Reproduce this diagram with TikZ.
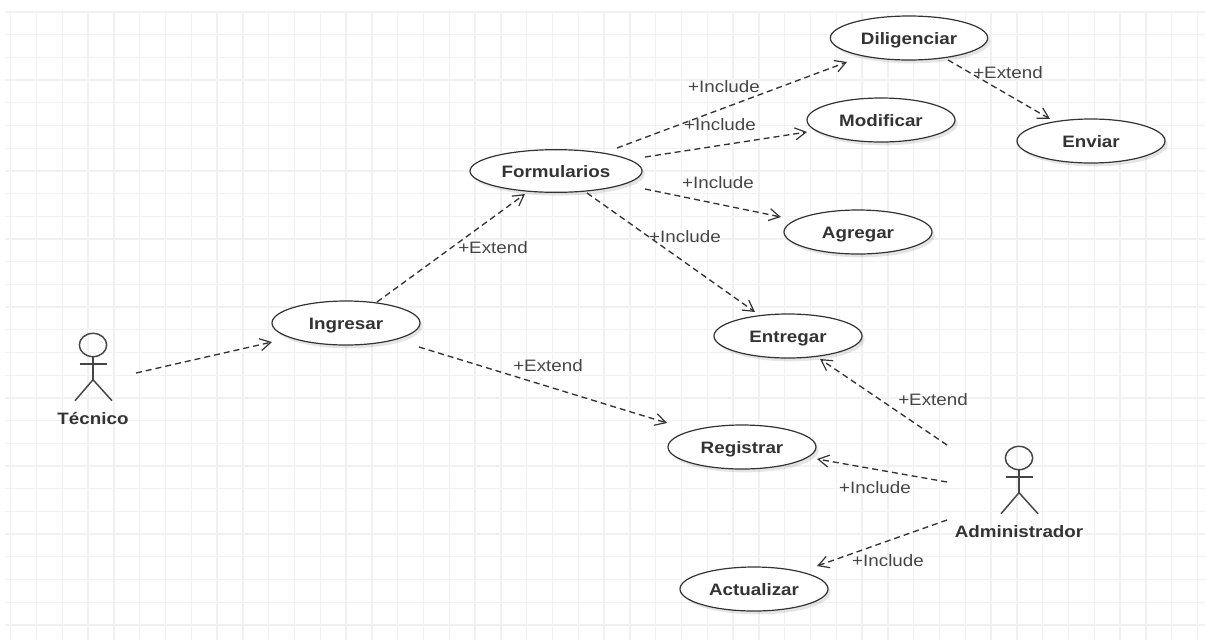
\documentclass[tikz,border=0pt]{standalone}
\usepackage{fontspec}
\setmainfont[FakeStretch=1.137]{Liberation Sans}
\usetikzlibrary{arrows.meta}
\usetikzlibrary{shapes.geometric}
\usetikzlibrary{shadows}
\definecolor{gridline}{rgb}{0.945, 0.945, 0.945}
\definecolor{umlline}{rgb}{0.2, 0.2, 0.2}
\definecolor{umltext}{rgb}{0.27, 0.27, 0.27}
\tikzset{usecase/.style = {draw = umlline, line width = 0.9pt, fill = white, ellipse, inner sep = 0,
                           minimum width = 111pt, minimum height = 33pt, font = \fontsize{12.4}{14}\selectfont\bfseries,
                           text = umlline, text height = 9pt, text depth = 0pt,
                           drop shadow = {shadow xshift = 2pt, shadow yshift = -2.5pt,
                                          fill = black, opacity = 0.1}}}
\tikzset{dep/.style = {draw = umlline, line width = 1pt, dash pattern = on 4.5pt off 3pt,
                       -{Straight Barb[length = 8pt, width = 9pt, line width = 0.9pt]}}}
\tikzset{stereo/.style = {text = umltext, inner sep = 0, text height = 9pt, text depth = 0pt,
                          font = \fontsize{12.4}{14}\selectfont}}
\tikzset{actorname/.style = {text = umlline, inner sep = 0, text height = 9pt, text depth = 0pt,
                             font = \fontsize{12.4}{14}\selectfont\bfseries}}
\tikzset{actorhead/.style = {draw = umltext, line width = 1.1pt, ellipse, inner sep = 0,
                             minimum width = 20.5pt, minimum height = 17.5pt}}
\tikzset{actorline/.style = {draw = umltext, line width = 1.1pt}}

\begin{document}
\begin{tikzpicture}[x = 0.75pt, y = -0.75pt]
      \useasboundingbox [fill = white] (0, 0) rectangle (1205, 640);

      \foreach \gx in {0, ..., 46}
        \draw [gridline, line width = 1pt] (10.7 + 25.8 * \gx, 12) -- (10.7 + 25.8 * \gx, 640);
      \foreach \gy in {0, ..., 27}
        \draw [gridline, line width = 1pt] (5, 12 + 22.7 * \gy) -- (1205, 12 + 22.7 * \gy);

      \node [usecase, minimum width = 118pt] (diligenciar) at (909, 38) {Diligenciar};
      \node [usecase] (modificar) at (881, 120) {Modificar};
      \node [usecase] (enviar) at (1091, 141) {Enviar};
      \node [usecase, minimum width = 129pt, minimum height = 32pt] (formularios) at (556, 171) {Formularios};
      \node [usecase] (agregar) at (858, 232) {Agregar};
      \node [usecase] (ingresar) at (346, 323) {Ingresar};
      \node [usecase] (entregar) at (788, 336) {Entregar};
      \node [usecase] (registrar) at (742, 447) {Registrar};
      \node [usecase] (actualizar) at (754, 589) {Actualizar};

      \foreach \who/\px/\py/\nm in {tecnico/93/345/Técnico, administrador/1019/458/Administrador} {
        \node [actorhead] (\who head) at (\px, \py) {};
        \draw [actorline] (\who head.south) -- ++(0, 22.3) coordinate (\who hip);
        \draw [actorline] (\who hip) -- ++(-18, 21);
        \draw [actorline] (\who hip) -- ++(19, 21);
        \draw [actorline] ([shift = {(-13.5, 19)}] \who head.center) -- ([shift = {(13.5, 19)}] \who head.center);
        \node [actorname] (\who) at (\px, \py + 73) {\nm};
      }

      \draw [dep] ([shift = {(43, 28)}] tecnicohead.center) -- ([shift = {(-74, 19)}] ingresar.center);
      \draw [dep] ([shift = {(31, -21)}] ingresar.center) -- ([shift = {(-31, 23)}] formularios.center);
      \draw [dep] ([shift = {(73, 24)}] ingresar.center) -- ([shift = {(-75, -24)}] registrar.center);
      \draw [dep] ([shift = {(61, -23)}] formularios.center) -- ([shift = {(-62, 24)}] diligenciar.center);
      \draw [dep] ([shift = {(89, -14)}] formularios.center) -- ([shift = {(-74, 12)}] modificar.center);
      \draw [dep] ([shift = {(89, 18)}] formularios.center) -- ([shift = {(-77, -15)}] agregar.center);
      \draw [dep] ([shift = {(31, 22)}] formularios.center) -- ([shift = {(-33, -24)}] entregar.center);
      \draw [dep] ([shift = {(39, 22)}] diligenciar.center) -- ([shift = {(-41, -22)}] enviar.center);
      \draw [dep] ([shift = {(-72, -13)}] administradorhead.center) -- ([shift = {(32, 23)}] entregar.center);
      \draw [dep] ([shift = {(-72, 24)}] administradorhead.center) -- ([shift = {(75, 12)}] registrar.center);
      \draw [dep] ([shift = {(-72, 62)}] administradorhead.center) -- ([shift = {(63, -23)}] actualizar.center);

      \node [stereo] (inclA) at (724, 86) {+Include};
      \node [stereo] (inclB) at (720, 124) {+Include};
      \node [stereo] (inclC) at (718, 182) {+Include};
      \node [stereo] (inclD) at (685, 236) {+Include};
      \node [stereo] (inclE) at (875, 487) {+Include};
      \node [stereo] (inclF) at (888, 560) {+Include};
      \node [stereo] (extA) at (1008, 72) {+Extend};
      \node [stereo] (extB) at (493, 247) {+Extend};
      \node [stereo] (extC) at (548, 365) {+Extend};
      \node [stereo] (extD) at (933, 399) {+Extend};
    \end{tikzpicture}
\end{document}
